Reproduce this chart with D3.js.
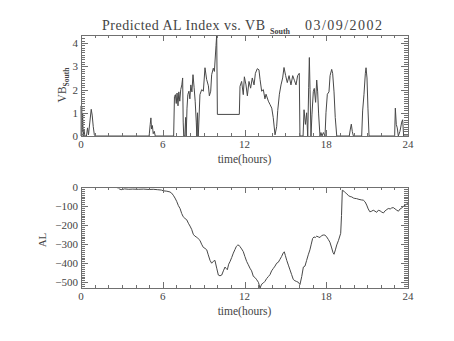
<!DOCTYPE html>
<html>
<head>
<meta charset="utf-8">
<script src="https://cdn.jsdelivr.net/npm/d3@7"></script>
<style>
  html, body { margin: 0; padding: 0; background: #fff; }
  svg { display: block; }
  text { font-family: "Liberation Serif", "DejaVu Serif", serif; fill: #444; }
</style>
</head>
<body>
<svg id="chart" width="454" height="341"></svg>
<script>
// Solar wind southward field (VB_South) on 03/09/2002, hours UT
const vbHours = [
  0.00, 0.02, 0.05, 0.08, 0.12, 0.16, 0.22, 0.28, 0.40, 0.48, 0.55, 0.65, 0.75, 0.82, 0.90, 0.98, 1.05,
  5.00, 5.08, 5.13, 5.18, 5.24, 5.30, 5.38, 5.45,
  6.80, 6.86, 6.93, 6.99, 7.05, 7.12, 7.18, 7.25, 7.32, 7.40, 7.46, 7.50, 7.54, 7.62, 7.68, 7.72,
  7.78, 7.84, 7.92, 7.99, 8.06, 8.14, 8.22, 8.30, 8.38, 8.46, 8.50, 8.55, 8.58, 8.61,
  8.73, 8.86, 8.98, 9.10, 9.22, 9.35, 9.42, 9.52, 9.59, 9.71, 9.79, 9.91, 9.96, 10.01,
  11.62, 11.67, 11.79, 11.91, 11.99, 12.11, 12.21, 12.33, 12.45, 12.57, 12.70, 12.80, 12.94, 13.06,
  13.14, 13.26, 13.38, 13.50, 13.58, 13.75, 13.87, 14.00, 14.11, 14.24, 14.36, 14.44, 14.56, 14.68,
  14.80, 14.90, 15.02, 15.14, 15.27, 15.41, 15.54, 15.66, 15.78, 15.90, 16.02, 16.07,
  16.30, 16.37, 16.47, 16.56, 16.64, 16.71, 16.76, 16.81, 16.88, 16.95, 17.05, 17.12, 17.22, 17.30,
  17.37, 17.44, 17.54, 17.61, 17.69, 17.79, 17.91, 17.98, 18.08, 18.20, 18.28, 18.40, 18.47, 18.57,
  18.66, 18.77, 19.69, 19.77, 19.84, 19.91, 19.99, 20.60, 20.67, 20.77, 20.87, 20.92, 20.99, 21.06,
  21.14, 23.02, 23.07, 23.14, 23.21, 23.29, 23.41, 23.54, 23.61, 23.68, 24.00
];
const vbValues = [
  1.30, 0.00, 1.25, 0.20, 0.95, 0.00, 0.30, 0.00, 0.00, 0.35, 0.05, 0.60, 1.15, 0.90, 0.40, 0.05, 0.00,
  0.00, 0.50, 0.78, 0.30, 0.45, 0.10, 0.20, 0.00,
  0.00, 1.70, 1.78, 1.40, 1.85, 1.30, 1.90, 1.50, 2.00, 2.20, 2.50, 0.60, 0.00, 0.00, 0.80, 0.00,
  1.20, 1.78, 1.93, 1.60, 2.20, 1.90, 2.64, 2.10, 1.50, 0.60, 0.00, 1.00, 0.00, 0.00,
  1.78, 2.00, 1.93, 2.94, 2.44, 2.16, 1.73, 1.93, 2.64, 2.92, 2.78, 3.90, 4.35, 0.93,
  0.93, 2.14, 2.35, 1.78, 2.55, 2.20, 1.73, 2.35, 2.06, 2.50, 2.20, 2.70, 2.90, 2.85,
  2.44, 1.93, 2.00, 1.60, 1.80, 1.50, 1.36, 1.20, 0.79, 0.05, 0.40, 1.10, 1.80, 2.20,
  2.50, 2.95, 2.60, 2.30, 2.60, 2.20, 2.60, 2.40, 2.20, 2.60, 2.70, 0.00,
  0.00, 1.13, 0.50, 1.00, 0.00, 2.10, 3.38, 2.00, 0.00, 0.91, 1.91, 2.05, 1.45, 2.41,
  1.90, 0.95, 0.00, 0.15, 0.00, 0.15, 0.00, 1.00, 1.80, 1.90, 2.60, 2.87, 2.70, 1.90,
  0.80, 0.00, 0.00, 0.30, 0.51, 0.20, 0.00, 0.00, 1.08, 1.80, 2.70, 2.94, 2.50, 1.20,
  0.00, 0.00, 1.20, 0.50, 0.35, 0.00, 0.20, 0.60, 0.70, 0.00, 0.00
];

// Predicted AL index (nT), hours UT
const alHours = [
  2.62, 2.75, 2.85, 3.00, 3.20, 3.50, 3.80, 4.20, 4.60, 5.00, 5.30, 5.60, 5.90, 6.04, 6.30, 6.53,
  6.65, 6.77, 6.90, 7.02, 7.15, 7.27, 7.39, 7.50, 7.63, 7.76, 7.88, 8.00, 8.12, 8.24, 8.36, 8.49,
  8.61, 8.73, 8.85, 8.98, 9.10, 9.23, 9.34, 9.47, 9.59, 9.71, 9.83, 9.96, 10.08, 10.20, 10.33,
  10.45, 10.57, 10.66, 10.74, 10.84, 10.94, 11.06, 11.18, 11.30, 11.40, 11.50, 11.60, 11.67, 11.79,
  11.91, 12.03, 12.16, 12.28, 12.40, 12.52, 12.65, 12.77, 12.90, 13.02, 13.14, 13.26, 13.38, 13.50,
  13.63, 13.75, 13.87, 13.99, 14.11, 14.24, 14.36, 14.48, 14.60, 14.72, 14.85, 14.92, 15.00, 15.10,
  15.22, 15.34, 15.46, 15.58, 15.70, 15.83, 15.95, 16.07, 16.20, 16.32, 16.44, 16.56, 16.68, 16.80,
  16.90, 17.00, 17.10, 17.20, 17.30, 17.42, 17.54, 17.66, 17.78, 17.90, 18.03, 18.15, 18.27, 18.40,
  18.50, 18.57, 18.67, 18.77, 18.90, 19.06, 19.12, 19.18, 19.30, 19.40, 19.50, 19.62, 19.75, 19.87,
  20.00, 20.10, 20.23, 20.40, 20.60, 20.72, 20.85, 20.97, 21.08, 21.20, 21.30, 21.45, 21.58, 21.70,
  21.82, 21.95, 22.08, 22.20, 22.32, 22.45, 22.55, 22.70, 22.80, 22.92, 23.05, 23.18, 23.30, 23.42,
  23.55, 23.68, 23.80, 23.90, 24.00
];
const alValues = [
  -3, -5, -12, -14, -10, -12, -11, -12, -11, -13, -12, -14, -16, -20, -22, -26,
  -32, -43, -58, -75, -98, -113, -139, -156, -165, -172, -190, -205, -222, -248, -258, -263,
  -272, -280, -300, -317, -322, -330, -356, -385, -400, -390, -385, -426, -462, -466, -462,
  -440, -420, -428, -434, -405, -391, -370, -347, -328, -312, -305, -306, -313, -325,
  -339, -365, -391, -408, -426, -440, -469, -475, -487, -500, -530, -510, -504, -495,
  -480, -470, -460, -440, -428, -415, -400, -395, -380, -365, -345, -340, -360, -385,
  -410, -435, -460, -485, -492, -496, -500, -512, -470, -420, -415, -385, -356, -330,
  -300, -270, -262, -265, -258, -262, -265, -255, -252, -252, -262, -275, -290, -320,
  -345, -353, -330, -304, -280, -243, -150, -17, -22, -30, -35, -45, -50, -52,
  -58, -60, -61, -65, -68, -69, -78, -95, -115, -130, -128, -122, -127, -133,
  -122, -125, -132, -136, -125, -118, -113, -115, -110, -108, -115, -122, -127, -115,
  -110, -100, -95, -90, -87
];

const xTicks = [0, 6, 12, 18, 24];
const vbTicks = [0, 1, 2, 3, 4];
const alTicks = [0, -100, -200, -300, -400, -500];

const svg = d3.select("#chart");
const left = 81, right = 408;
const axisColor = "#707070", lineColor = "#484848";

const x = d3.scaleLinear().domain([0, 24]).range([left, right]);

function panel(cfg) {
  const y = d3.scaleLinear().domain(cfg.yDomain).range([cfg.bottom, cfg.top]);
  const g = svg.append("g");

  // data trace
  g.append("path")
    .datum(cfg.hours.map((h, i) => [h, cfg.values[i]]))
    .attr("fill", "none")
    .attr("stroke", lineColor)
    .attr("stroke-width", 1)
    .attr("stroke-linejoin", "round")
    .attr("d", d3.line().x(d => x(d[0])).y(d => y(d[1])));

  // hourly minor ticks and 6-hour major ticks on bottom and top edges
  const xMinor = d3.range(0, 25, 1);
  g.append("g").attr("transform", `translate(0,${cfg.bottom})`)
    .call(d3.axisBottom(x).tickValues(xMinor).tickSize(-3).tickFormat(""));
  g.append("g").attr("transform", `translate(0,${cfg.top})`)
    .call(d3.axisTop(x).tickValues(xMinor).tickSize(-3).tickFormat(""));
  g.append("g").attr("transform", `translate(0,${cfg.bottom})`)
    .call(d3.axisBottom(x).tickValues(xTicks).tickSize(-6).tickFormat(""));
  g.append("g").attr("transform", `translate(0,${cfg.top})`)
    .call(d3.axisTop(x).tickValues(xTicks).tickSize(-6).tickFormat(""));

  // y ticks on left and right edges
  g.append("g").attr("transform", `translate(${left},0)`)
    .call(d3.axisLeft(y).tickValues(cfg.yMinor).tickSize(-4).tickFormat(""));
  g.append("g").attr("transform", `translate(${right},0)`)
    .call(d3.axisRight(y).tickValues(cfg.yMinor).tickSize(-4).tickFormat(""));
  g.append("g").attr("transform", `translate(${left},0)`)
    .call(d3.axisLeft(y).tickValues(cfg.yTicks).tickSize(-7).tickFormat(""));
  g.append("g").attr("transform", `translate(${right},0)`)
    .call(d3.axisRight(y).tickValues(cfg.yTicks).tickSize(-7).tickFormat(""));

  g.selectAll(".domain").remove();
  g.selectAll(".tick line").attr("stroke", axisColor).attr("shape-rendering", "crispEdges");

  // frame
  g.append("rect")
    .attr("x", left).attr("y", cfg.top)
    .attr("width", right - left).attr("height", cfg.bottom - cfg.top)
    .attr("fill", "none").attr("stroke", axisColor).attr("stroke-width", 1)
    .attr("shape-rendering", "crispEdges");

  // tick labels
  g.selectAll(".xl").data(xTicks).enter().append("text")
    .attr("x", d => x(d)).attr("y", cfg.bottom + 12)
    .attr("text-anchor", "middle").attr("font-size", 11)
    .text(d => d);
  g.selectAll(".yl").data(cfg.yTicks).enter().append("text")
    .attr("x", left - 3).attr("y", d => y(d) + 4)
    .attr("text-anchor", "end").attr("font-size", 11)
    .text(d => d < 0 ? "\u2212" + Math.abs(d) : d);

  g.append("text")
    .attr("x", (left + right) / 2).attr("y", cfg.bottom + 27)
    .attr("text-anchor", "middle").attr("font-size", 11.5)
    .text("time(hours)");
  return g;
}

panel({
  top: 35, bottom: 136, yDomain: [0, 4.35],
  yTicks: vbTicks, yMinor: d3.range(0, 43).map(i => i / 10),
  hours: vbHours, values: vbValues
});
panel({
  top: 187, bottom: 288, yDomain: [-530, 0],
  yTicks: alTicks, yMinor: d3.range(-53, 1).map(i => i * 10),
  hours: alHours, values: alValues
});

// y-axis titles
const vbLabel = svg.append("text")
  .attr("transform", "translate(66,85) rotate(-90)")
  .attr("text-anchor", "middle").attr("font-size", 11.5);
vbLabel.append("tspan").text("VB");
vbLabel.append("tspan").attr("dy", 3).attr("font-size", 7.5).attr("font-weight", "bold").text("South");

svg.append("text")
  .attr("transform", "translate(46,240) rotate(-90)")
  .attr("text-anchor", "middle").attr("font-size", 11)
  .text("AL");

// title
const title = svg.append("text").attr("x", 102).attr("y", 30).attr("font-size", 14);
title.append("tspan").attr("textLength", 163).attr("lengthAdjust", "spacing")
  .text("Predicted AL Index vs. VB");
title.append("tspan").attr("x", 270).attr("dy", 4).attr("font-size", 8)
  .attr("font-weight", "bold").text("South");
title.append("tspan").attr("x", 305).attr("dy", -4).attr("textLength", 77)
  .attr("lengthAdjust", "spacing").text("03/09/2002");
</script>
</body>
</html>
